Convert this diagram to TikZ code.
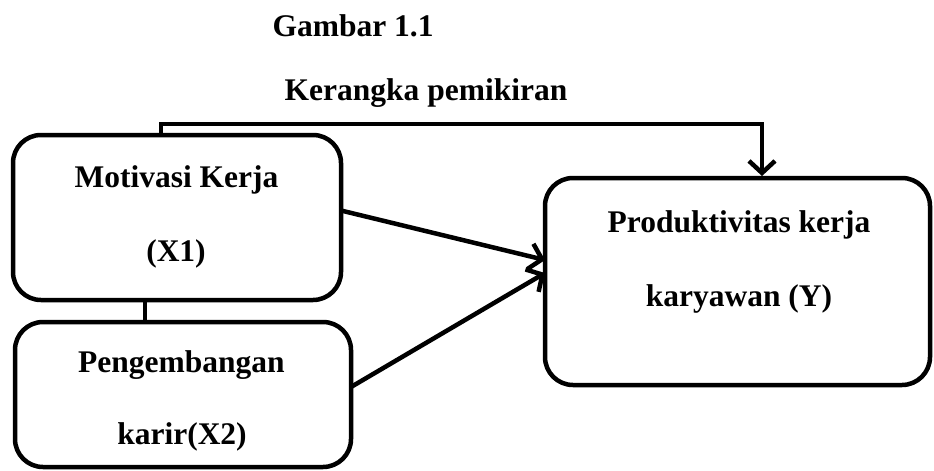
\documentclass[tikz,border=0pt]{standalone}
\usepackage{fontspec}
\setmainfont{Liberation Serif}
\usetikzlibrary{arrows.meta}
\begin{document}
\begin{tikzpicture}[x=1pt,y=-1pt,
  box/.style={draw,line width=4.5pt,rounded corners=28pt,inner sep=0pt,outer sep=0pt},
  lbl/.style={anchor=base,inner sep=0pt,font=\fontsize{31.5}{37}\selectfont\bfseries},
  conn/.style={line width=4.5pt},
  arr/.style={line width=4.5pt,-{Straight Barb[length=12pt,width=26pt,line width=4.5pt]}}]
\useasboundingbox (0,0) rectangle (934,471);
% boxes
\node[box,minimum width=328pt,minimum height=165pt] (X1) at (177,217.5) {};
\node[box,minimum width=336pt,minimum height=145pt] (X2) at (183,394.5) {};
\node[box,minimum width=385pt,minimum height=207pt] (Y) at (737.5,281.5) {};
% titles
\node[lbl] (g) at (353,36) {Gambar 1.1};
\node[lbl] (k) at (426,100) {Kerangka pemikiran};
% box texts
\node[lbl] (x1a) at (176.5,187) {Motivasi Kerja};
\node[lbl] (x1b) at (176,261) {(X1)};
\node[lbl] (x2a) at (181.5,372) {Pengembangan};
\node[lbl] (x2b) at (182,444) {karir(X2)};
\node[lbl] (ya) at (739,232) {Produktivitas kerja};
\node[lbl] (yb) at (739,306) {karyawan (Y)};
% connectors
\coordinate (t1) at (161,124);
\coordinate (t2) at (762,124);
\coordinate (c) at (145,0);
\draw[conn] (X1.south -| c) -- (X2.north -| c);
\draw[arr] (X1.north -| t1) |- (t2) -- ([yshift=2pt]Y.north -| t2);
\draw[arr] ([yshift=7pt]X1.east) -- ([yshift=21.5pt]Y.west);
\draw[arr] ([yshift=7.5pt]X2.east) -- ([yshift=8.5pt]Y.west);
\end{tikzpicture}
\end{document}
